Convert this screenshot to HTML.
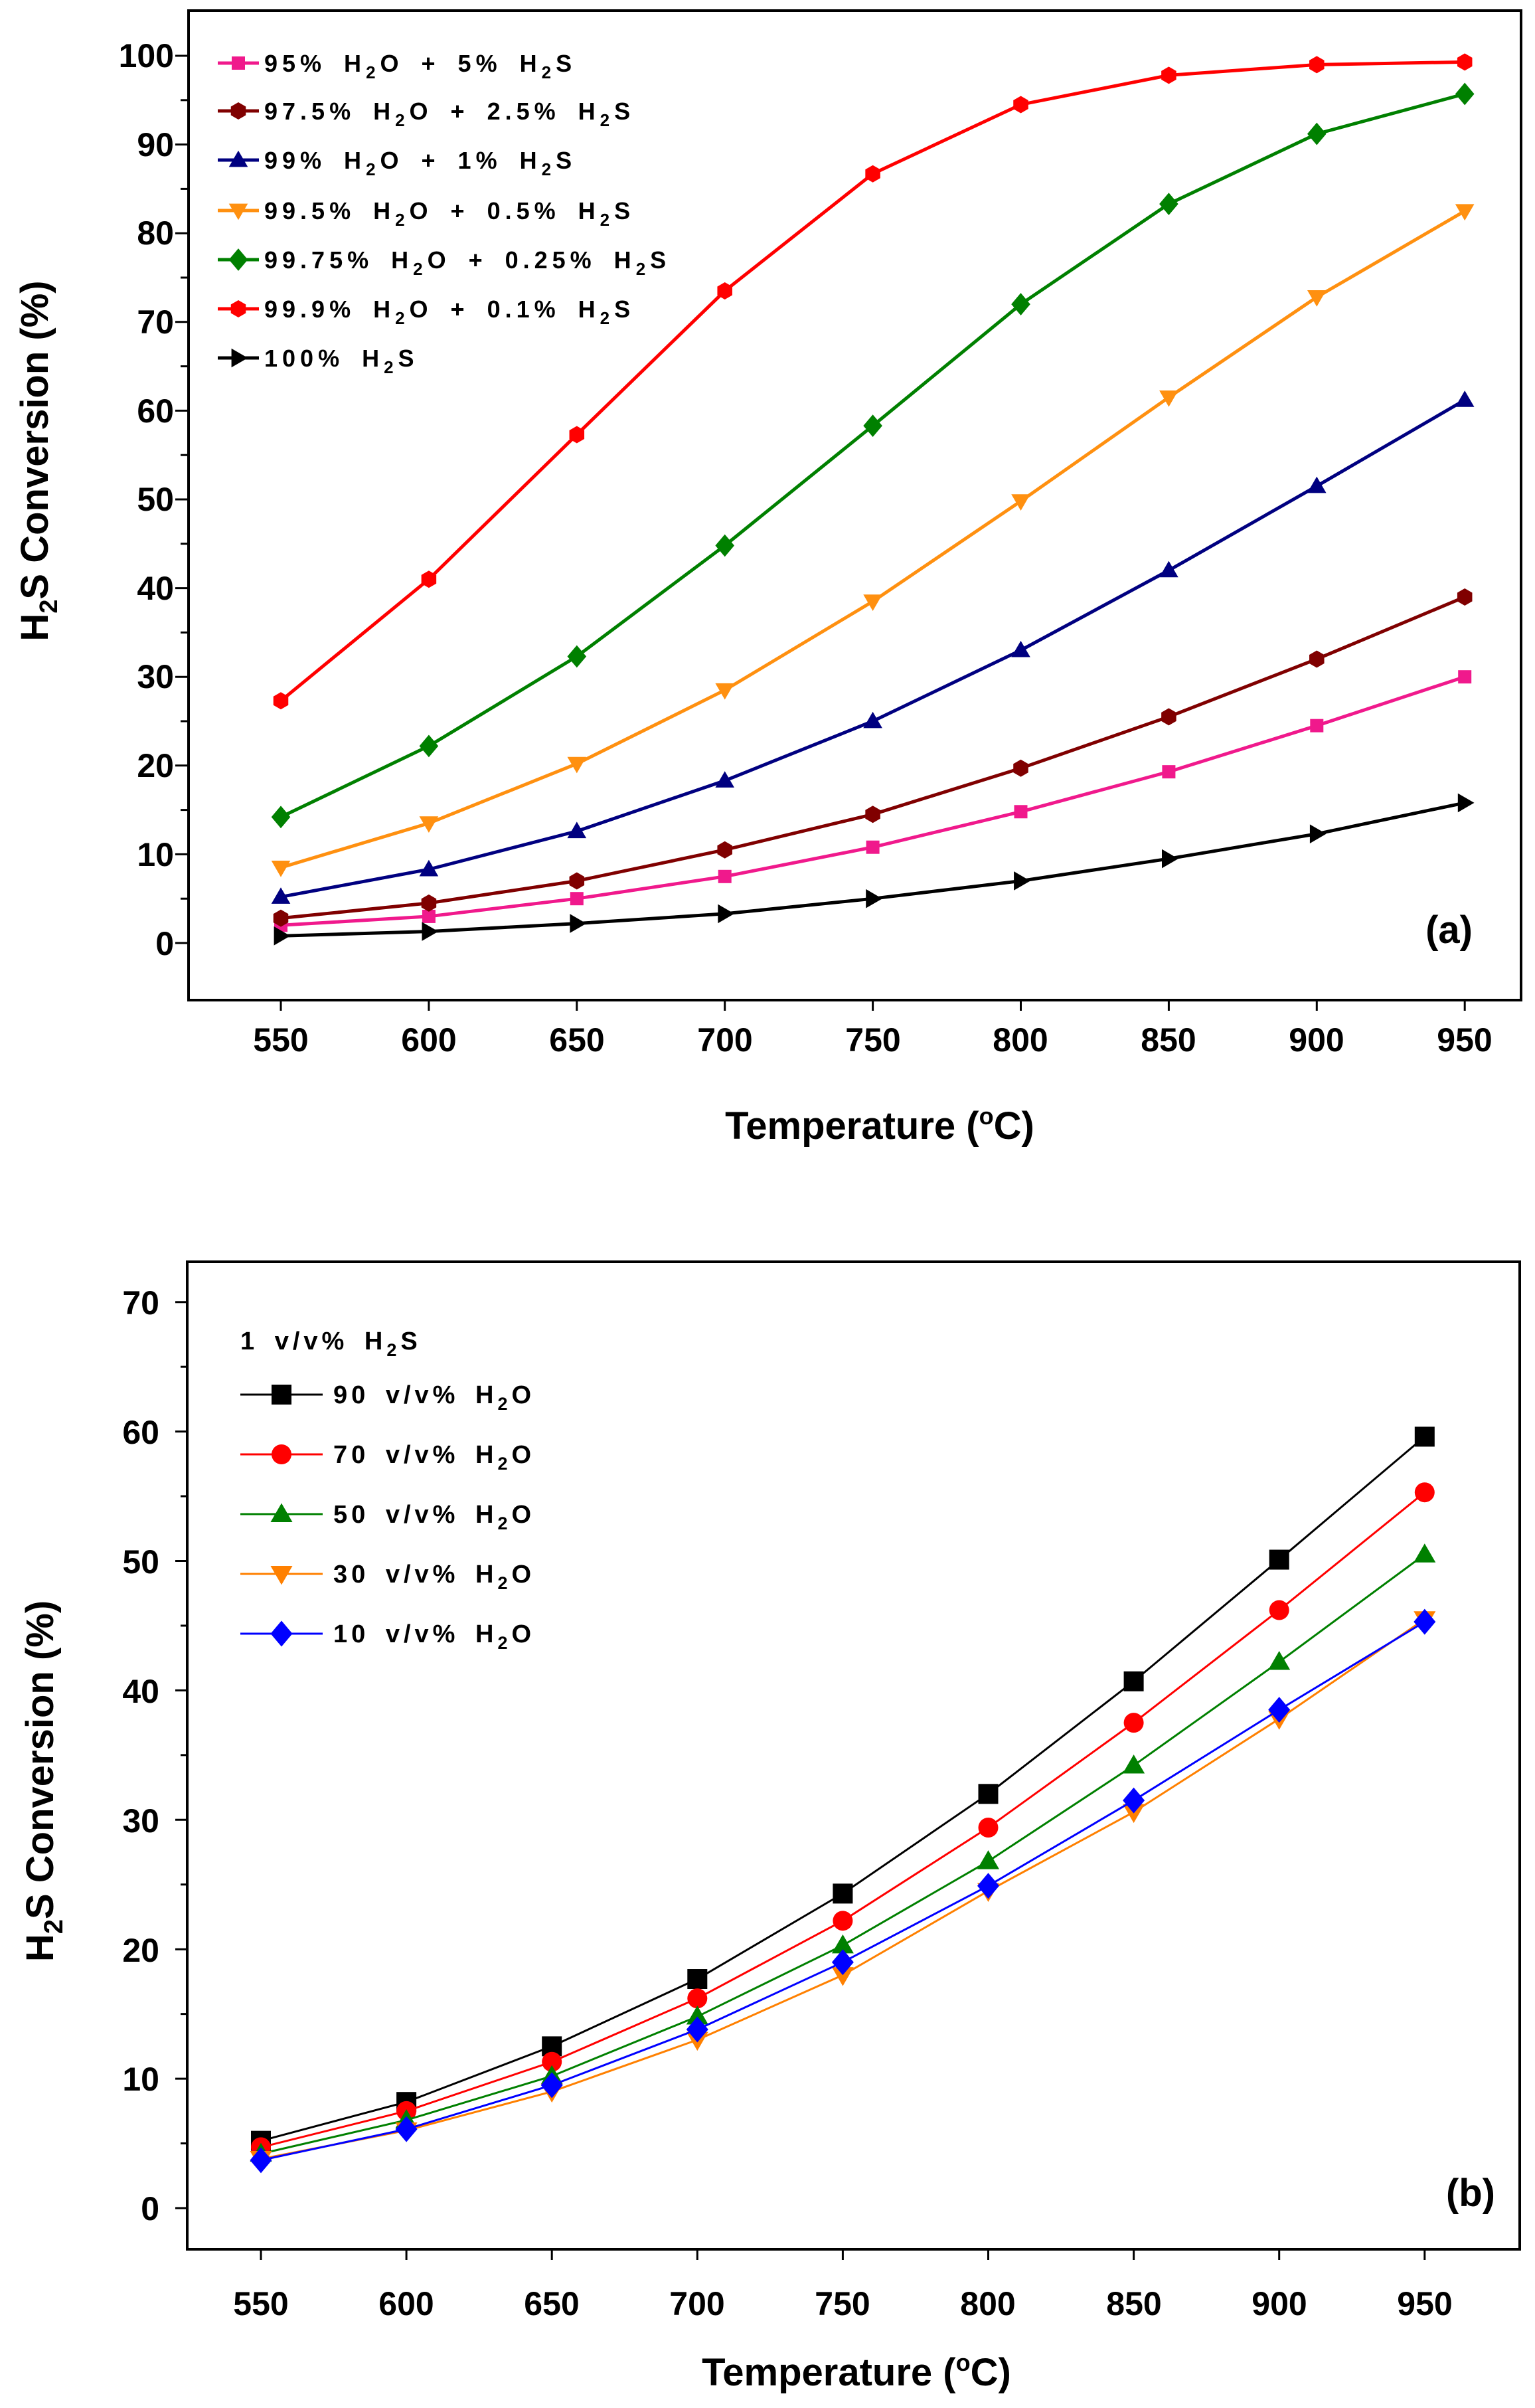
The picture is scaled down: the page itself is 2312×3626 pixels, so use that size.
<!DOCTYPE html>
<html><head><meta charset="utf-8"><style>
html,body{margin:0;padding:0;background:#fff}
svg{display:block}
text{font-family:"Liberation Sans",Arial,sans-serif;font-weight:bold;fill:#000}
.tk{font-size:50px}
.lg{font-size:36px;letter-spacing:7px;word-spacing:10px}
.lgb{font-size:38px;letter-spacing:6px;word-spacing:8px}
.ax{font-size:58px}
</style></head><body>
<svg id="s" width="2312" height="3626" viewBox="0 0 2312 3626" xmlns="http://www.w3.org/2000/svg">
<rect x="284" y="16" width="2007" height="1490" fill="none" stroke="#000" stroke-width="4"/>
<rect x="282" y="1900" width="2007" height="1487" fill="none" stroke="#000" stroke-width="4"/>
<g id="ga"></g><g id="gb"></g>
<g class="tk" text-anchor="end">
<text x="262" y="101">100</text><text x="262" y="235">90</text><text x="262" y="368">80</text><text x="262" y="502">70</text><text x="262" y="636">60</text><text x="262" y="769">50</text><text x="262" y="903">40</text><text x="262" y="1036">30</text><text x="262" y="1170">20</text><text x="262" y="1304">10</text><text x="262" y="1438">0</text>
</g>
<g class="tk" text-anchor="middle">
<text x="423" y="1583">550</text><text x="646" y="1583">600</text><text x="869" y="1583">650</text><text x="1092" y="1583">700</text><text x="1315" y="1583">750</text><text x="1537" y="1583">800</text><text x="1760" y="1583">850</text><text x="1983" y="1583">900</text><text x="2206" y="1583">950</text>
</g>
<text class="ax" x="1325" y="1715" text-anchor="middle">Temperature (<tspan font-size="36" dy="-22">o</tspan><tspan dy="22">C)</tspan></text>
<text class="ax" transform="translate(72,694) rotate(-90)" text-anchor="middle">H<tspan font-size="38" dy="14">2</tspan><tspan dy="-14">S Conversion (%)</tspan></text>
<text x="2218" y="1420" font-size="58" text-anchor="end">(a)</text>
<g class="lg">
<text x="398" y="108">95% H<tspan font-size="26" dy="10">2</tspan><tspan dy="-10">O + 5% H</tspan><tspan font-size="26" dy="10">2</tspan><tspan dy="-10">S</tspan></text>
<text x="398" y="180">97.5% H<tspan font-size="26" dy="10">2</tspan><tspan dy="-10">O + 2.5% H</tspan><tspan font-size="26" dy="10">2</tspan><tspan dy="-10">S</tspan></text>
<text x="398" y="254">99% H<tspan font-size="26" dy="10">2</tspan><tspan dy="-10">O + 1% H</tspan><tspan font-size="26" dy="10">2</tspan><tspan dy="-10">S</tspan></text>
<text x="398" y="330">99.5% H<tspan font-size="26" dy="10">2</tspan><tspan dy="-10">O + 0.5% H</tspan><tspan font-size="26" dy="10">2</tspan><tspan dy="-10">S</tspan></text>
<text x="398" y="404">99.75% H<tspan font-size="26" dy="10">2</tspan><tspan dy="-10">O + 0.25% H</tspan><tspan font-size="26" dy="10">2</tspan><tspan dy="-10">S</tspan></text>
<text x="398" y="478">99.9% H<tspan font-size="26" dy="10">2</tspan><tspan dy="-10">O + 0.1% H</tspan><tspan font-size="26" dy="10">2</tspan><tspan dy="-10">S</tspan></text>
<text x="398" y="552">100% H<tspan font-size="26" dy="10">2</tspan><tspan dy="-10">S</tspan></text>
</g>
<g class="tk" text-anchor="end">
<text x="240" y="1979">70</text><text x="240" y="2174">60</text><text x="240" y="2369">50</text><text x="240" y="2564">40</text><text x="240" y="2759">30</text><text x="240" y="2954">20</text><text x="240" y="3148">10</text><text x="240" y="3343">0</text>
</g>
<g class="tk" text-anchor="middle">
<text x="393" y="3486">550</text><text x="612" y="3486">600</text><text x="831" y="3486">650</text><text x="1050" y="3486">700</text><text x="1269" y="3486">750</text><text x="1488" y="3486">800</text><text x="1708" y="3486">850</text><text x="1927" y="3486">900</text><text x="2146" y="3486">950</text>
</g>
<text class="ax" x="1290" y="3592" text-anchor="middle">Temperature (<tspan font-size="36" dy="-22">o</tspan><tspan dy="22">C)</tspan></text>
<text class="ax" transform="translate(80,2682) rotate(-90)" text-anchor="middle" font-size="62">H<tspan font-size="40" dy="14">2</tspan><tspan dy="-14">S Conversion (%)</tspan></text>
<text x="2252" y="3322" font-size="58" text-anchor="end">(b)</text>
<g class="lgb">
<text x="362" y="2032">1 v/v% H<tspan font-size="27" dy="10">2</tspan><tspan dy="-10">S</tspan></text>
<text x="502" y="2113">90 v/v% H<tspan font-size="27" dy="10">2</tspan><tspan dy="-10">O</tspan></text>
<text x="502" y="2203">70 v/v% H<tspan font-size="27" dy="10">2</tspan><tspan dy="-10">O</tspan></text>
<text x="502" y="2293">50 v/v% H<tspan font-size="27" dy="10">2</tspan><tspan dy="-10">O</tspan></text>
<text x="502" y="2383">30 v/v% H<tspan font-size="27" dy="10">2</tspan><tspan dy="-10">O</tspan></text>
<text x="502" y="2473">10 v/v% H<tspan font-size="27" dy="10">2</tspan><tspan dy="-10">O</tspan></text>
</g>
</svg>
<script>
var NS="http://www.w3.org/2000/svg";
function el(p,t,a){var e=document.createElementNS(NS,t);for(var k in a)e.setAttribute(k,a[k]);p.appendChild(e);return e;}
function marker(g,type,x,y,r,c){
 if(type=="sq")el(g,"rect",{x:x-r,y:y-r,width:2*r,height:2*r,fill:c});
 else if(type=="ci")el(g,"circle",{cx:x,cy:y,r:r,fill:c});
 else if(type=="hex"){var p=[];for(var i=0;i<6;i++){var a=Math.PI/6+i*Math.PI/3;p.push((x+r*Math.cos(a))+","+(y+r*Math.sin(a)));}el(g,"polygon",{points:p.join(" "),fill:c});}
 else if(type=="up")el(g,"polygon",{points:x+","+(y-r*1.1)+" "+(x+r*1.1)+","+(y+r*0.8)+" "+(x-r*1.1)+","+(y+r*0.8),fill:c});
 else if(type=="dn")el(g,"polygon",{points:x+","+(y+r*1.1)+" "+(x+r*1.1)+","+(y-r*0.8)+" "+(x-r*1.1)+","+(y-r*0.8),fill:c});
 else if(type=="di")el(g,"polygon",{points:x+","+(y-r*1.3)+" "+(x+r*1.1)+","+y+" "+x+","+(y+r*1.3)+" "+(x-r*1.1)+","+y,fill:c});
 else if(type=="rt")el(g,"polygon",{points:(x+r*1.1)+","+y+" "+(x-r*0.8)+","+(y-r*1.1)+" "+(x-r*0.8)+","+(y+r*1.1),fill:c});
}
var ga=document.getElementById("ga");
for(var v=0;v<=100;v+=5){var y=1420-v*13.36;el(ga,"line",{x1:284,x2:v%10?272:264,y1:y,y2:y,stroke:"#000","stroke-width":3});}
for(var i=0;i<9;i++){var x=423+i*222.9;el(ga,"line",{x1:x,x2:x,y1:1506,y2:1522,stroke:"#000","stroke-width":3});}
var A=[
["#f0198c","sq",[2,3,5,7.5,10.8,14.8,19.3,24.5,30]],
["#800000","hex",[2.8,4.5,7,10.5,14.5,19.7,25.5,32,39]],
["#000080","up",[5.2,8.3,12.6,18.3,25,33,42,51.5,61.2]],
["#ff9010","dn",[8.5,13.5,20.2,28.5,38.5,49.8,61.5,72.8,82.5]],
["#008000","di",[14.2,22.2,32.3,44.8,58.3,72,83.3,91.2,95.7]],
["#ff0000","hex",[27.3,41,57.3,73.5,86.7,94.5,97.8,99,99.3]],
["#000000","rt",[0.8,1.3,2.2,3.3,5,7,9.5,12.3,15.8]]];
A.forEach(function(s,k){
 var pts=s[2].map(function(v,i){return [423+i*222.9,1420-v*13.36];});
 el(ga,"polyline",{points:pts.map(function(p){return p.join(",")}).join(" "),fill:"none",stroke:s[0],"stroke-width":5});
 pts.forEach(function(p){marker(ga,s[1],p[0],p[1],s[1]=="sq"?10:13,s[0]);});
 var ly=[95,167,241,317,391,465,539][k];
 el(ga,"line",{x1:328,x2:390,y1:ly,y2:ly,stroke:s[0],"stroke-width":5});
 marker(ga,s[1],359,ly,s[1]=="sq"?10:13,s[0]);
});
var gb=document.getElementById("gb");
for(var v=0;v<=70;v+=5){var y=3325-v*19.49;el(gb,"line",{x1:282,x2:v%10?272:264,y1:y,y2:y,stroke:"#000","stroke-width":3});}
for(var i=0;i<9;i++){var x=393+i*219.1;el(gb,"line",{x1:x,x2:x,y1:3387,y2:3403,stroke:"#000","stroke-width":3});}
var B=[
["#000000","sq",[5.2,8.2,12.5,17.7,24.3,32,40.7,50.1,59.6]],
["#ff0000","ci",[4.7,7.5,11.3,16.2,22.2,29.4,37.5,46.2,55.3]],
["#008000","up",[4.2,6.8,10.2,14.8,20.3,26.8,34.2,42.2,50.5]],
["#ff8000","dn",[3.8,6,9,13,18,24.5,30.6,37.8,45.5]],
["#0000ff","di",[3.7,6.1,9.5,13.8,19,24.9,31.5,38.5,45.3]]];
B.forEach(function(s,k){
 var pts=s[2].map(function(v,i){return [393+i*219.1,3325-v*19.49];});
 el(gb,"polyline",{points:pts.map(function(p){return p.join(",")}).join(" "),fill:"none",stroke:s[0],"stroke-width":3});
 pts.forEach(function(p){marker(gb,s[1],p[0],p[1],15,s[0]);});
 var ly=[2100,2190,2280,2370,2460][k];
 el(gb,"line",{x1:362,x2:486,y1:ly,y2:ly,stroke:s[0],"stroke-width":3});
 marker(gb,s[1],424,ly,15,s[0]);
});
</script>
</body></html>
